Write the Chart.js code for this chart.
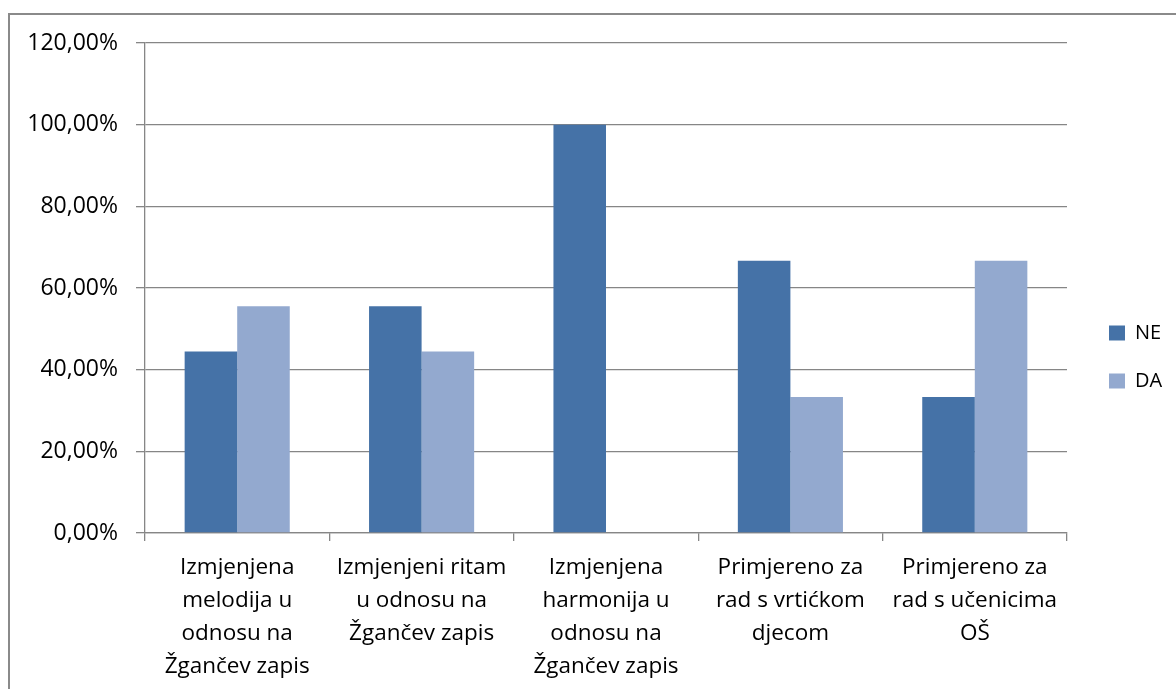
<!DOCTYPE html>
<html>
<head>
<meta charset="utf-8">
<script src="https://cdn.jsdelivr.net/npm/chart.js@4.4.1/dist/chart.umd.min.js"></script>
<style>
html,body{margin:0;padding:0;background:#fff;}
#wrap{position:relative;width:1176px;height:689px;}
canvas{display:block;}
</style>
</head>
<body>
<div id="wrap"><canvas id="c" width="1176" height="689"></canvas></div>
<script>
const categories = [
  ['Izmjenjena', 'melodija u', 'odnosu na', 'Žgančev zapis'],
  ['Izmjenjeni ritam', 'u odnosu na', 'Žgančev zapis'],
  ['Izmjenjena', 'harmonija u', 'odnosu na', 'Žgančev zapis'],
  ['Primjereno za', 'rad s vrtićkom', 'djecom'],
  ['Primjereno za', 'rad s učenicima', 'OŠ']
];
const seriesNames = ['NE', 'DA'];
const neValues = [44.44, 55.56, 100, 66.67, 33.33];
const daValues = [55.56, 44.44, 0, 33.33, 66.67];
const yMin = 0, yMax = 120, yStep = 20;

const FONT = "'Open Sans', 'Liberation Sans', sans-serif";
const GRID = '#868686';

const frame = {
  id: 'frame',
  beforeDraw(chart) {
    const ctx = chart.ctx;
    ctx.save();
    ctx.fillStyle = '#fff';
    ctx.fillRect(0, 0, chart.width, chart.height);
    ctx.strokeStyle = '#8a8a8a';
    ctx.lineWidth = 2;
    ctx.beginPath();
    ctx.moveTo(9, 689);
    ctx.lineTo(9, 14);
    ctx.lineTo(1176, 14);
    ctx.stroke();
    ctx.restore();
  }
};

const legendFix = {
  id: 'legendFix',
  beforeLayout(chart) {
    const lg = chart.legend;
    if (lg && !lg._patched) {
      const f = lg.fit.bind(lg);
      lg.fit = function () { f(); this.width = 109; };
      lg._patched = true;
    }
  },
  afterLayout(chart) {
    const lg = chart.legend;
    if (!lg) return;
    const h = lg.bottom - lg.top;
    lg.left = 1081;
    lg.right = 1176;
    lg.top = 295;
    lg.bottom = 295 + h;
  }
};

new Chart(document.getElementById('c'), {
  type: 'bar',
  data: {
    labels: categories,
    datasets: [
      { label: seriesNames[0], data: neValues, backgroundColor: '#4572A7', borderWidth: 0 },
      { label: seriesNames[1], data: daValues, backgroundColor: '#93A9CF', borderWidth: 0 }
    ]
  },
  options: {
    responsive: false,
    animation: false,
    devicePixelRatio: 1,
    layout: { padding: { top: 43, left: 0, right: 0, bottom: 0 } },
    datasets: { bar: { categoryPercentage: 0.57, barPercentage: 1.0 } },
    plugins: {
      legend: {
        position: 'right',
        align: 'start',
        labels: {
          font: { family: FONT, size: 20 },
          color: '#000',
          boxWidth: 16,
          boxHeight: 15,
          padding: 28
        }
      },
      tooltip: { enabled: false }
    },
    scales: {
      x: {
        grid: { offset: true, drawOnChartArea: false, drawTicks: true, tickLength: 8, color: GRID, lineWidth: 1.3 },
        border: { color: GRID, width: 1.3 },
        ticks: { font: { family: FONT, size: 22.5, lineHeight: 1.47 }, color: '#000', padding: 10, maxRotation: 0, autoSkip: false },
        afterFit(s) { s.height = 156; }
      },
      y: {
        min: yMin, max: yMax,
        grid: { color: GRID, lineWidth: 1.3, tickLength: 9 },
        border: { color: GRID, width: 1.3 },
        ticks: {
          stepSize: yStep,
          font: { family: FONT, size: 23 },
          color: '#000',
          padding: 18,
          callback: v => v.toFixed(2).replace('.', ',') + '%'
        },
        afterFit(s) { s.width = 145; }
      }
    }
  },
  plugins: [frame, legendFix]
});
</script>
</body>
</html>
